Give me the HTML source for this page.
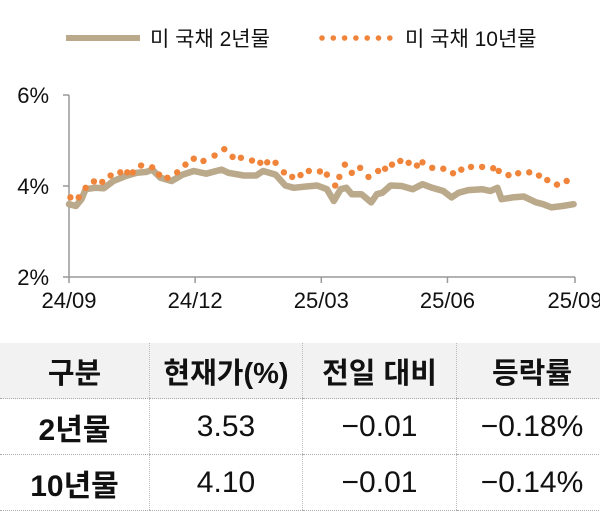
<!DOCTYPE html>
<html><head><meta charset="utf-8"><style>
body{margin:0;width:600px;height:504px;background:#fff;overflow:hidden;font-family:"Liberation Sans","Noto Sans CJK KR",sans-serif;position:relative}
svg{position:absolute;left:0;top:0}
table{position:absolute;left:0;top:343px;width:607px;border-collapse:collapse;table-layout:fixed;font-family:"Liberation Sans","Noto Sans CJK KR",sans-serif}
td,th{text-align:center;color:#111;padding:0;border-left:1px dotted #bbb;border-bottom:1px dotted #aaa;white-space:nowrap}
td:first-child,th:first-child{border-left:none}
th{background:#f2f2f2;height:55px;font-size:29px;font-weight:bold}
td{height:55px;font-size:30px}
td.l{font-weight:bold;font-size:30px}
</style></head><body>
<svg width="600" height="340">
<g id="legend">
<line x1="66" y1="38" x2="140" y2="38" stroke="#bba98b" stroke-width="6"/>
<text x="150" y="46" font-size="21" fill="#111" font-family="Liberation Sans, Noto Sans CJK KR, sans-serif">미 국채 2년물</text>
<g id="ldots"></g>
<text x="405" y="46" font-size="21" fill="#111" font-family="Liberation Sans, Noto Sans CJK KR, sans-serif">미 국채 10년물</text>
</g>
<g id="axes"></g>
<g id="plot"></g>
</svg>
<table>
<tr><th style="width:149px">구분</th><th style="width:152px">현재가(%)</th><th style="width:153px">전일 대비</th><th>등락률</th></tr>
<tr><td class="l">2년물</td><td>3.53</td><td>−0.01</td><td>−0.18%</td></tr>
<tr><td class="l">10년물</td><td>4.10</td><td>−0.01</td><td>−0.14%</td></tr>
</table>
<script>
const yTicks=[2,4,6];
const yTickLabels=["2%","4%","6%"];
const xTickDays=[0,91,182,273,365];
const xTickLabels=["24/09","24/12","25/03","25/06","25/09"];
const days2y=[0,5,9,12,19,25,32,41,49,56,60,66,74,82,90,99,110,115,126,135,140,149,156,162,171,179,186,191,196,200,204,211,218,222,226,232,240,248,255,262,270,276,281,288,298,304,309,312,320,328,337,342,348,356,364];
const vals2y=[3.60,3.56,3.71,3.93,3.96,3.95,4.11,4.22,4.29,4.31,4.36,4.18,4.11,4.25,4.33,4.27,4.36,4.29,4.23,4.23,4.33,4.25,4.01,3.96,3.99,4.01,3.93,3.67,3.93,3.96,3.82,3.82,3.64,3.82,3.85,4.01,4.00,3.93,4.04,3.96,3.89,3.75,3.85,3.91,3.93,3.89,3.96,3.71,3.75,3.77,3.64,3.60,3.53,3.56,3.60];
const days10y=[1,7,12,18,24,30,37,42,46,52,60,65,71,78,84,90,97,105,112,118,124,132,138,143,149,155,161,167,173,181,186,192,195,199,204,210,216,223,228,233,239,245,251,255,262,270,277,283,290,298,306,310,317,324,332,339,345,352,359];
const vals10y=[3.75,3.75,3.96,4.10,4.09,4.23,4.30,4.30,4.30,4.45,4.41,4.25,4.18,4.30,4.47,4.60,4.55,4.67,4.81,4.64,4.62,4.56,4.51,4.52,4.51,4.30,4.20,4.24,4.33,4.32,4.25,4.01,4.20,4.47,4.29,4.40,4.20,4.33,4.38,4.47,4.55,4.51,4.45,4.52,4.40,4.38,4.28,4.36,4.42,4.42,4.39,4.33,4.24,4.28,4.30,4.23,4.13,4.03,4.11];
const NS="http://www.w3.org/2000/svg";
const X0=69,X1=575,Y2=277,Y6=95;
const xs=d=>X0+(X1-X0)*d/365;
const ys=v=>Y2-(Y2-Y6)*(v-2)/4;
function mk(t,a,p){const e=document.createElementNS(NS,t);for(const k in a)e.setAttribute(k,a[k]);p.appendChild(e);return e;}
const ax=document.getElementById('axes'),pl=document.getElementById('plot');
let e=mk('line',{x1:X0,y1:Y6,x2:X0,y2:Y2,stroke:'#999','stroke-width':1.5},ax);


e=mk('line',{x1:X0,y1:Y2,x2:X1,y2:Y2,stroke:'#999','stroke-width':1.5},ax);


yTicks.forEach((v,i)=>{
 let t=mk('line',{x1:X0-6,y1:ys(v),x2:X0,y2:ys(v),stroke:'#999','stroke-width':1.5},ax);
 
 
 let l=mk('text',{x:X0-20,y:ys(v)+8,'font-size':22,'text-anchor':'end',fill:'#111'},ax);
 l.textContent=yTickLabels[i];
 
 
});
xTickDays.forEach((d,i)=>{
 let t=mk('line',{x1:xs(d),y1:Y2,x2:xs(d),y2:Y2+6,stroke:'#999','stroke-width':1.5},ax);
 
 
 let l=mk('text',{x:xs(d),y:Y2+31,'font-size':22,'text-anchor':'middle',fill:'#111'},ax);
 l.textContent=xTickLabels[i];
 
 
});
let pts=days2y.map((d,i)=>xs(d).toFixed(1)+','+ys(vals2y[i]).toFixed(1)).join(' ');
let ln=mk('polyline',{points:pts,fill:'none',stroke:'#bba98b','stroke-width':6.5,'stroke-linejoin':'round','stroke-linecap':'round'},pl);


const n=Math.min(days10y.length,vals10y.length);
for(let i=0;i<n;i++){
 let c=mk('circle',{cx:xs(days10y[i]),cy:ys(vals10y[i]),r:3.2,fill:'#f0843a'},pl);
 
 
}
const ld=document.getElementById('ldots');
for(let i=0;i<7;i++){
 let c=mk('circle',{cx:322+i*11.3,cy:38,r:2.8,fill:'#f0843a'},ld);
 
 
}
</script>
</body></html>
